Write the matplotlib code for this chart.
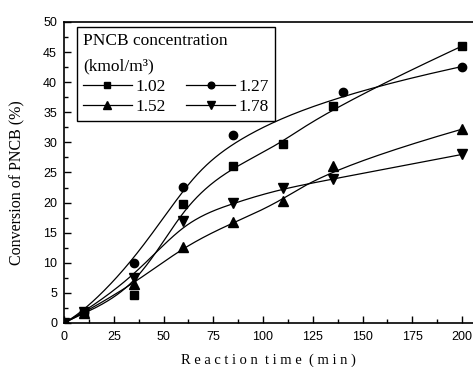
import numpy as np
import matplotlib
matplotlib.use("Agg")
import matplotlib.pyplot as plt
from matplotlib.ticker import MultipleLocator

# ─── Data ────────────────────────────────────────────────────────────────────
time_a = [0, 10, 35, 60, 85, 110, 135, 200]
conv_102 = [0, 1.7, 4.6, 19.8, 26.0, 29.8, 36.0, 46.0]

time_b = [0, 10, 35, 60, 85, 140, 200]
conv_127 = [0, 1.8, 10.0, 22.6, 31.2, 38.3, 42.6]

conv_152 = [0, 1.7, 6.4, 12.7, 16.7, 20.2, 26.0, 32.2]
conv_178 = [0, 1.8, 7.4, 16.9, 19.9, 22.4, 23.9, 28.0]

labels = ["1.02", "1.27", "1.52", "1.78"]
markers = ["s", "o", "^", "v"]
msizes = [5.5, 6.0, 6.5, 6.5]


def bspline(xs, ys, n=300, k=3):
    """Clamped uniform B-spline using the data points as control points."""
    P = np.column_stack([xs, ys]).astype(float)
    m = len(P)
    inner = np.arange(1, m - k)
    knots = np.concatenate([np.zeros(k + 1), inner, np.full(k + 1, m - k)])
    t = np.linspace(0, m - k, n)
    t[-1] -= 1e-9
    # Cox-de Boor
    N = np.zeros((n, len(knots) - 1))
    for i in range(len(knots) - 1):
        N[:, i] = (t >= knots[i]) & (t < knots[i + 1])
    for d in range(1, k + 1):
        Nn = np.zeros((n, len(knots) - 1 - d))
        for i in range(len(knots) - 1 - d):
            a = knots[i + d] - knots[i]
            b = knots[i + d + 1] - knots[i + 1]
            term = 0
            if a > 0:
                term = term + (t - knots[i]) / a * N[:, i]
            if b > 0:
                term = term + (knots[i + d + 1] - t) / b * N[:, i + 1]
            Nn[:, i] = term
        N = Nn
    C = N @ P
    return C[:, 0], C[:, 1]


fig = plt.figure(figsize=(4.73, 3.67), dpi=100)
ax = fig.add_axes([0.1353, 0.1199, 0.8668, 0.8202])

series = [(time_a, conv_102), (time_b, conv_127), (time_a, conv_152), (time_a, conv_178)]
handles = []
for (x, y), lab, mk, ms in zip(series, labels, markers, msizes):
    cx, cy = bspline(x, y)
    ax.plot(cx, cy, color="black", linewidth=0.9, zorder=2)
    ax.plot(x, y, linestyle="none", marker=mk, color="black", markersize=ms, zorder=3)
    h, = ax.plot([], [], color="black", linewidth=0.9, marker=mk, markersize=ms * 0.8)
    handles.append(h)

ax.set_xlim(0, 206)
ax.set_ylim(0, 50)
ax.xaxis.set_major_locator(MultipleLocator(25))
ax.xaxis.set_minor_locator(MultipleLocator(12.5))
ax.yaxis.set_major_locator(MultipleLocator(5))
ax.yaxis.set_minor_locator(MultipleLocator(2.5))
ax.tick_params(which="both", direction="in", top=False, right=False, width=1)
ax.tick_params(which="major", length=5, labelsize=9)
ax.tick_params(axis="x", which="major", pad=6)
ax.tick_params(axis="y", which="major", pad=5)
ax.tick_params(which="minor", length=3)
for lbl in ax.get_xticklabels() + ax.get_yticklabels():
    lbl.set_fontfamily("Liberation Sans")
for sp in ax.spines.values():
    sp.set_linewidth(1.2)
ax.spines["right"].set_visible(False)

serif = "Liberation Serif"
ax.set_xlabel("R e a c t i o n  t i m e  ( m i n )", fontfamily=serif, fontsize=10.5)
ax.xaxis.set_label_coords(0.498, -0.1)
ax.set_ylabel("Conversion of PNCB (%)", fontfamily=serif, fontsize=11.5)
ax.yaxis.set_label_coords(-0.095, 0.465)

# rows in the reference: 1.02 1.27 / 1.52 1.78 (legend fills by column)
order = [0, 2, 1, 3]
leg = ax.legend([handles[i] for i in order], [labels[i] for i in order],
                ncol=2, loc="upper left", bbox_to_anchor=(0.032, 0.983), borderaxespad=0,
                title="PNCB concentration\n(kmol/m\u00b3)",
                prop={"family": serif, "size": 12.5},
                title_fontproperties={"family": serif, "size": 12.5},
                fancybox=False, edgecolor="black", framealpha=1, handlelength=2.8,
                numpoints=1, columnspacing=1.2, handletextpad=0.2, labelspacing=0.25,
                borderpad=0.35)
leg._legend_box.align = "left"
leg.get_title().set_linespacing(1.75)
leg.get_frame().set_linewidth(1.0)

fig.savefig("out.png", dpi=100)
